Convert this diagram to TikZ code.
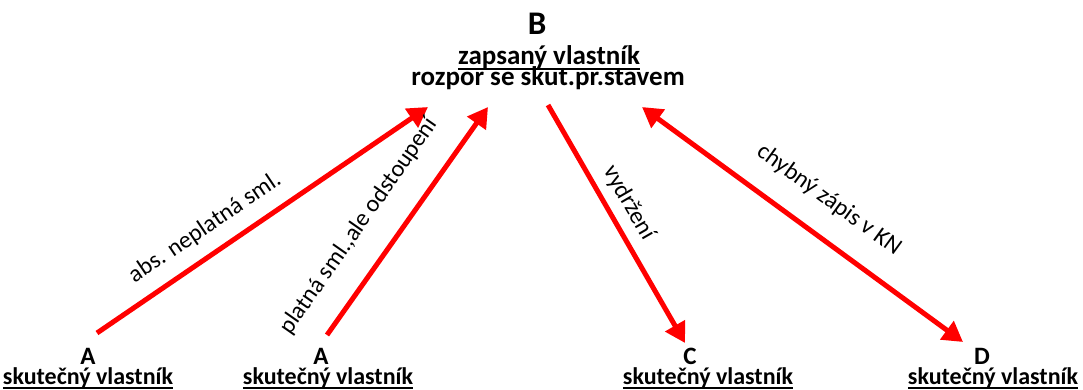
\documentclass[tikz,border=0pt]{standalone}
\usepackage{fontspec}
\setmainfont{Carlito}
\usetikzlibrary{arrows.meta}
\begin{document}
\begin{tikzpicture}[x=1pt,y=-1pt,
  rel/.style={draw=red, line width=5pt, -{Triangle[length=20pt,width=22pt]}},
  both/.style={draw=red, line width=5pt, {Triangle[length=20pt,width=22pt]}-{Triangle[length=20pt,width=22pt]}},
  lbl/.style={font=\fontsize{24}{28}\selectfont, inner sep=0pt},
  party/.style={font=\bfseries\fontsize{33}{38}\selectfont, inner sep=0pt, anchor=base},
  small party/.style={font=\bfseries\fontsize{25}{30}\selectfont, inner sep=0pt, anchor=base},
  role/.style={font=\bfseries\fontsize{24}{28}\selectfont, inner sep=0pt, anchor=base},
  top role/.style={font=\bfseries\fontsize{27}{30}\selectfont, inner sep=0pt, anchor=base},
  uline/.style={draw=black, line width=1.6pt}]
\useasboundingbox (0,0) rectangle (1083,390);

% top party
\node[party] (B) at (537,35) {B};
\node[top role] (Brole) at (549,65) {zapsaný vlastník};
\node[top role] (Bstate) at (548,86) {rozpor se skut.pr.stavem};
\draw[uline] ([yshift=-4pt]Brole.base west) -- ([yshift=-4pt]Brole.base east);

% bottom parties
\node[small party] (A1) at (88,364) {A};
\node[role] (A1role) at (88,384) {skutečný vlastník};
\node[small party] (A2) at (321,364) {A};
\node[role] (A2role) at (328,384) {skutečný vlastník};
\node[small party] (C) at (690,364) {C};
\node[role] (Crole) at (708,384) {skutečný vlastník};
\node[small party] (D) at (982,364) {D};
\node[role] (Drole) at (993,384) {skutečný vlastník};
\foreach \n in {A1role,A2role,Crole,Drole}
  \draw[uline] ([yshift=-4pt]\n.base west) -- ([yshift=-4pt]\n.base east);

% arrow ends
\coordinate (a1s) at (97,333);
\coordinate (a1e) at (428,107);
\coordinate (a2s) at (327,335);
\coordinate (a2e) at (488,107);
\coordinate (cs) at (548,105);
\coordinate (ce) at (685,343);
\coordinate (ds) at (642,107);
\coordinate (de) at (963,342);

\draw[rel] (a1s) -- (a1e);
\draw[rel] (a2s) -- (a2e);
\draw[rel] (cs) -- (ce);
\draw[both] (ds) -- (de);

% labels
\node[lbl, rotate=34] (l1) at (205,228) {abs. neplatná sml.};
\node[lbl, rotate=55] (l2) at (359,226) {platná sml.,ale odstoupení};
\node[lbl, rotate=-60] (l3) at (629,203) {vydržení};
\node[lbl, rotate=-36] (l4) at (829,200) {chybný zápis v KN};
\end{tikzpicture}
\end{document}
